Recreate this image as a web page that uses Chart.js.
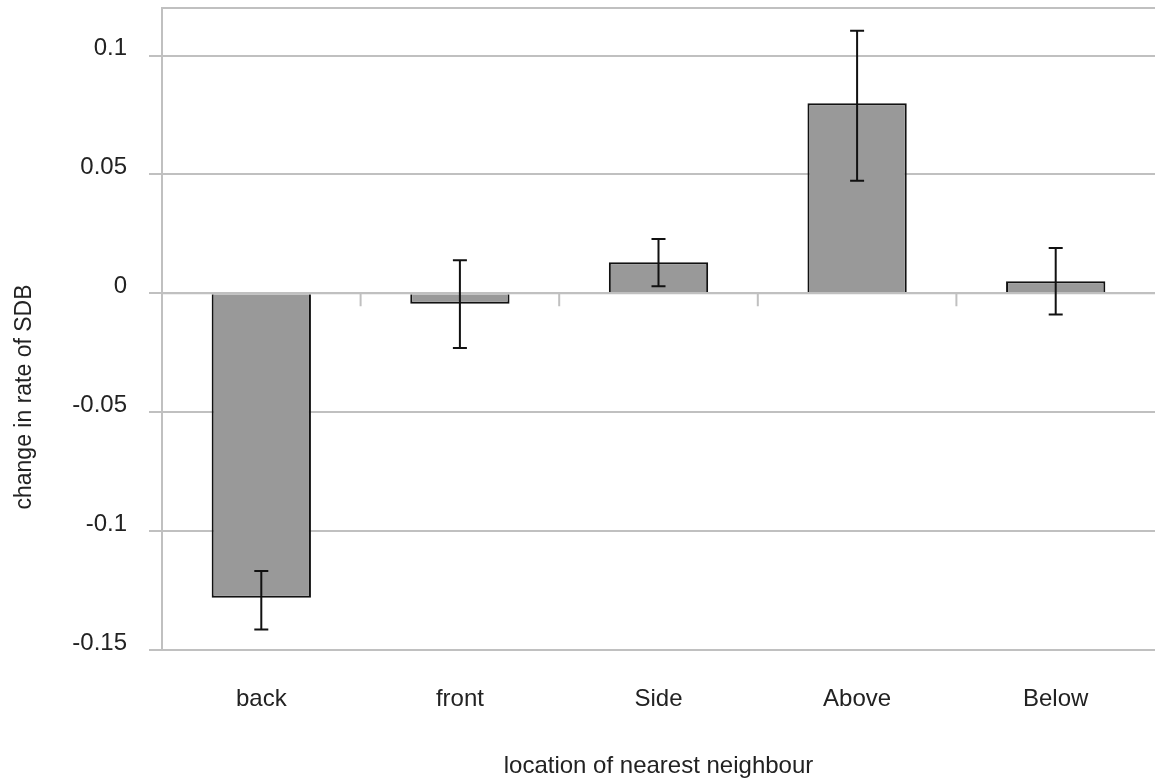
<!DOCTYPE html>
<html lang="en">
<head>
    <meta charset="UTF-8">
    <title>change in rate of SDB by location of nearest neighbour</title>
    <script src="https://cdn.jsdelivr.net/npm/chart.js"></script>
    <style>
        html, body {
            margin: 0;
            padding: 0;
            background: #ffffff;
            overflow: hidden;
        }
        .chart-box {
            position: relative;
            width: 1155px;
            height: 781px;
        }
    </style>
</head>
<body>
    <div class="chart-box">
        <canvas id="sdbChart"></canvas>
    </div>

    <script>
        // values
        const categories = ['back', 'front', 'Side', 'Above', 'Below'];
        const meanChange = [-0.128, -0.0044, 0.0131, 0.0799, 0.0051];
        const errHigh = [-0.1168, 0.0139, 0.0228, 0.1104, 0.0191];
        const errLow = [-0.1414, -0.0230, 0.0030, 0.0473, -0.0089];
        const yTicks = [-0.15, -0.1, -0.05, 0, 0.05, 0.1];
        const yMin = -0.15;
        const yMax = 0.12;
        const yTitle = 'change in rate of SDB';

        const gridColor = '#c0c0c0';
        const textColor = '#222222';
        const fontFamily = '"Liberation Sans", Arial, sans-serif';

        // frame top line, zero axis with category tick marks, error bars, y title
        const overlayPlugin = {
            id: 'overlay',
            afterDatasetsDraw(chart) {
                const ctx = chart.ctx;
                const x = chart.scales.x;
                const y = chart.scales.y;
                const area = chart.chartArea;
                ctx.save();

                ctx.strokeStyle = gridColor;
                ctx.lineWidth = 2;
                ctx.beginPath();
                ctx.moveTo(area.left, area.top);
                ctx.lineTo(area.right, area.top);
                const y0 = y.getPixelForValue(0);
                ctx.moveTo(area.left, y0);
                ctx.lineTo(area.right, y0);
                for (let i = 0; i < categories.length - 1; i++) {
                    const xb = (x.getPixelForTick(i) + x.getPixelForTick(i + 1)) / 2;
                    ctx.moveTo(xb, y0);
                    ctx.lineTo(xb, y0 + 13);
                }
                ctx.stroke();

                const meta = chart.getDatasetMeta(0);
                ctx.strokeStyle = '#111111';
                ctx.lineWidth = 2;
                meta.data.forEach(function(bar, i) {
                    const top = y.getPixelForValue(errHigh[i]);
                    const bottom = y.getPixelForValue(errLow[i]);
                    ctx.beginPath();
                    ctx.moveTo(bar.x, top);
                    ctx.lineTo(bar.x, bottom);
                    ctx.moveTo(bar.x - 7, top);
                    ctx.lineTo(bar.x + 7, top);
                    ctx.moveTo(bar.x - 7, bottom);
                    ctx.lineTo(bar.x + 7, bottom);
                    ctx.stroke();
                });

                // the original centres the axis title lower than the plot middle
                ctx.translate(25, 397);
                ctx.rotate(-Math.PI / 2);
                ctx.fillStyle = textColor;
                ctx.font = '23px ' + fontFamily;
                ctx.textAlign = 'center';
                ctx.textBaseline = 'middle';
                ctx.fillText(yTitle, 0, 0);
                ctx.restore();
            }
        };

        const ctx = document.getElementById('sdbChart').getContext('2d');
        new Chart(ctx, {
            type: 'bar',
            data: {
                labels: categories,
                datasets: [{
                    label: yTitle,
                    data: meanChange,
                    backgroundColor: '#999999',
                    borderColor: '#111111',
                    borderWidth: 2,
                    categoryPercentage: 1.0,
                    barPercentage: 0.5
                }]
            },
            options: {
                responsive: true,
                maintainAspectRatio: false,
                animation: false,
                layout: {
                    padding: { top: 0, right: 0, bottom: 0, left: 0 }
                },
                plugins: {
                    legend: { display: false },
                    tooltip: { enabled: false }
                },
                scales: {
                    x: {
                        grid: { display: false, drawTicks: false, tickLength: 0 },
                        border: { display: false },
                        ticks: {
                            color: textColor,
                            padding: 35,
                            font: { family: fontFamily, size: 24 }
                        },
                        title: {
                            display: true,
                            text: 'location of nearest neighbour',
                            color: textColor,
                            padding: { top: 0, bottom: 0 },
                            font: { family: fontFamily, size: 24 }
                        },
                        afterFit(scale) {
                            scale.height = 131;
                        }
                    },
                    y: {
                        min: yMin,
                        max: yMax,
                        afterBuildTicks(scale) {
                            scale.ticks = yTicks.map(function(v) { return { value: v }; });
                        },
                        grid: {
                            color: gridColor,
                            lineWidth: 2,
                            tickLength: 13
                        },
                        border: { color: gridColor, width: 2 },
                        ticks: {
                            color: textColor,
                            padding: 22,
                            labelOffset: -7,
                            font: { family: fontFamily, size: 24 },
                            callback: function(value) {
                                return String(Math.round(value * 100) / 100);
                            }
                        },
                        title: { display: false },
                        afterFit(scale) {
                            scale.width = 162;
                            scale.paddingTop = 8;
                            scale.paddingBottom = 0;
                        }
                    }
                }
            },
            plugins: [overlayPlugin]
        });
    </script>
</body>
</html>
